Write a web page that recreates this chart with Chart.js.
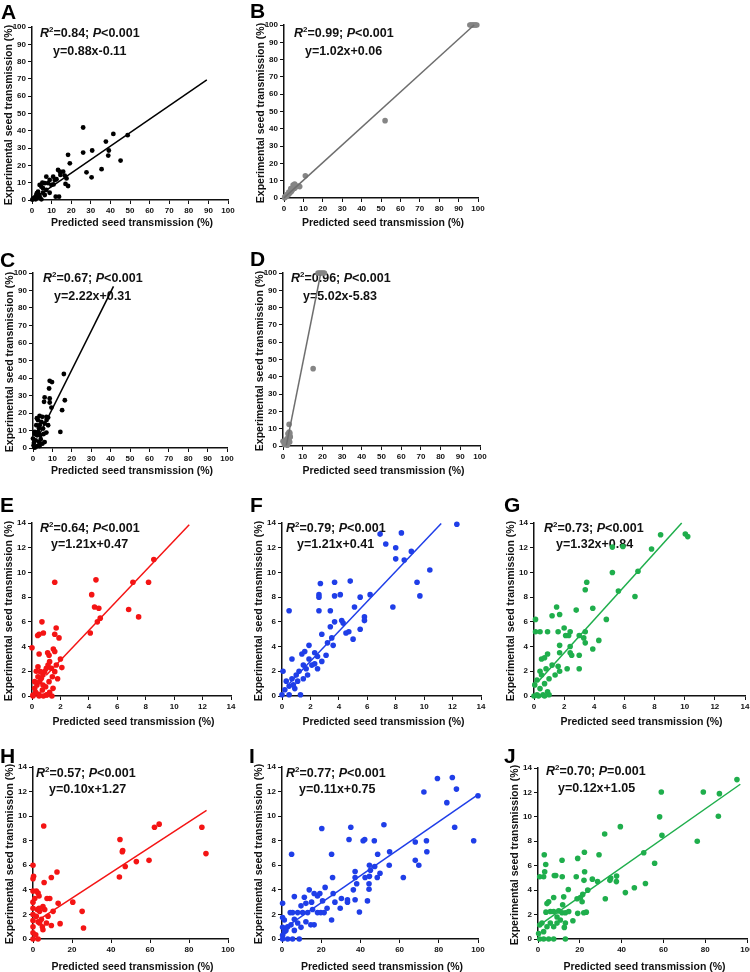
<!DOCTYPE html>
<html>
<head>
<meta charset="UTF-8">
<title>Seed transmission</title>
<script src="https://cdn.jsdelivr.net/npm/chart.js@4.4.0/dist/chart.umd.min.js"></script>
<style>
  body { margin:0; width:750px; height:972px; position:relative; overflow:hidden; background:#fff;
         font-family:"Liberation Sans", Arial, sans-serif; }
  canvas { position:absolute; }
  .lab { position:absolute; font-weight:bold; font-size:21px; line-height:1; color:#000; }
  .xt, .yt { position:absolute; font-weight:bold; font-size:10.5px; line-height:1; white-space:nowrap; color:#111; }
  .xt { transform:translate(-50%,-50%); }
  .yt { transform:translate(-50%,-50%) rotate(-90deg); }
</style>
</head>
<body>
<script>
// ---- data: [predicted, experimental] ----
const ptsA = [[26.1,41.9],[26.1,27.4],[18.4,26.1],[19.3,21.2],[27.8,16.0],[30.7,28.6],[30.4,13.1],[35.5,17.8],
  [37.7,33.8],[38.9,25.7],[39.2,28.6],[41.5,38.2],[45.2,22.8],[48.8,37.5],[16.7,14.1],[17.6,12.5],[17.1,9.3],
  [18.4,8.1],[13.3,17.4],[14.2,16.4],[15.9,16.4],[10.8,13.5],[9.0,11.6],[8.2,9.7],[9.9,8.7],[7.3,13.5],[11.6,11.6],
  [9.0,4.2],[12.1,1.9],[13.8,1.9],[3.9,8.7],[4.8,7.7],[5.6,6.8],[3.1,4.8],[2.2,2.9],[1.4,1.5],[0.5,0.6],[3.9,1.9],
  [4.8,0.4],[6.5,2.9],[7.3,5.8],[5.6,4.2],[2.6,1.5],[1.9,0.4],[3.6,2.9],[5.3,10.0],[6.5,9.7],[12.5,12.0],[14.5,14.5],
  [11.0,9.0],[1.0,1.0],[0.2,0.2],[2.5,4.0]];
const fitA = [[0.5,0.4],[89.2,69.5]];

const ptsB = [[95.8,100],[96.4,100],[97,100],[97.6,100],[98.2,100],[98.8,100],[99.4,100],[52.1,44.7],[11.0,12.9],
  [4.7,7.5],[6.4,6.6],[8.1,6.6],[5.5,5.6],[3.8,3.7],[2.9,2.7],[2.1,1.7],[1.2,0.8],[0.3,0.2],[4.3,4.6],[7.2,6.9],
  [5.5,8.1],[3.5,5.5],[2.5,3.5],[1.5,2.0],[0.5,0.8]];
const fitB = [[0,0.06],[98,100]];

const ptsC = [[15.9,42.3],[8.6,38.4],[9.8,37.7],[8.3,34.0],[6.0,28.9],[5.7,26.4],[8.6,28.3],[8.6,26.0],[9.5,23.1],
  [15.0,21.6],[16.4,27.3],[14.1,9.2],[7.8,17.4],[3.4,18.4],[4.8,17.8],[6.9,17.8],[2.6,15.9],[4.3,14.9],[6.0,14.0],
  [7.8,13.0],[1.7,13.0],[3.1,11.1],[5.2,11.1],[6.9,8.8],[0.9,9.2],[2.1,7.3],[3.8,7.3],[0,5.4],[1.4,4.4],[3.1,3.4],
  [4.8,2.5],[0.3,1.5],[2.1,1.0],[0.9,0.2],[3.4,1.1],[6.0,3.4],[2.6,9.2],[0.5,3.0],[1.0,8.0],[4.0,5.0],[5.5,8.0],
  [2.0,17.0],[7.0,16.0],[3.5,13.0]];
const fitC = [[3.5,8.1],[41.5,92.4]];

const ptsD = [[17.8,100],[18.6,100],[19.4,100],[20.2,100],[21.0,100],[15.3,44.7],[3.1,12.5],[2.5,7.1],[3.4,6.2],
  [3.1,4.2],[1.7,3.3],[0,2.7],[1.4,1.3],[2.2,0.4],[3.4,2.3],[3.7,5.2],[3.1,8.1],[0.7,0.8],[2.0,4.2],[2.8,5.5],
  [3.5,7.5],[1.0,2.0]];
const fitD = [[1.7,0.4],[19,99]];

const ptsE = [[8.57,11.05],[7.1,9.2],[8.2,9.2],[6.8,7.0],[7.5,6.4],[1.6,9.2],[4.5,9.4],[4.2,8.2],[4.4,7.2],[4.7,7.1],
  [4.8,6.3],[4.6,6.0],[4.1,5.1],[0.7,6.0],[0.8,5.1],[0.4,4.9],[0.5,5.0],[1.7,5.5],[1.6,5.0],[1.9,4.7],[0,3.9],
  [0.5,3.4],[1.1,3.5],[1.2,3.3],[1.5,3.8],[1.6,3.6],[2.0,3.0],[2.1,2.3],[1.8,1.4],[0.3,2.0],[0.19,0.62],[0.35,0.89],
  [0.54,1.16],[0.66,1.43],[0.77,1.7],[0.89,1.97],[1.01,2.24],[1.13,2.51],[1.24,2.78],[1.36,2.24],[0.42,1.56],
  [0.26,0.3],[0.49,0.13],[0.73,0.49],[0.96,0.75],[1.2,1.16],[1.43,1.56],[1.6,1.97],[1.71,2.51],[0.07,0.08],
  [1.24,0.3],[1.01,0.08],[0.77,0.89],[0.59,1.97],[0.42,2.37],[1.48,0.62],[0.19,1.16],[0.07,0],[0.5,0],[0.8,0],
  [1.05,0.1],[1.4,0]];
const fitE = [[1.0,1.68],[11.06,13.85]];

const ptsF = [[12.3,13.9],[6.9,13.1],[8.4,13.2],[7.3,12.3],[8.0,12.0],[8.0,11.1],[9.1,11.7],[8.6,11.0],[10.4,10.2],
  [9.5,9.2],[9.7,8.1],[7.8,7.2],[0.5,6.9],[2.7,9.1],[3.7,9.2],[4.8,9.3],[2.6,8.2],[2.6,8.0],[3.7,8.1],[4.1,8.2],
  [5.5,8.0],[6.2,8.2],[2.6,6.9],[3.4,6.9],[5.1,7.2],[3.7,6.0],[4.2,6.1],[4.3,5.9],[5.8,6.4],[5.8,6.1],[5.5,5.4],
  [5.0,4.6],[4.7,5.2],[4.5,5.1],[3.4,5.6],[2.8,5.0],[3.5,4.7],[3.6,4.1],[3.2,4.3],[1.9,4.1],[0.7,3.0],[0.07,2.0],
  [1.4,3.4],[1.6,3.6],[2.3,3.5],[2.5,3.2],[3.1,3.3],[2.8,2.8],[2.1,2.5],[1.7,2.2],[1.2,2.0],[1.0,1.7],[0.7,1.4],
  [0.3,1.2],[0.5,0.8],[0.2,0.5],[0.9,0.6],[1.3,0.1],[1.5,2.5],[1.9,3.0],[2.3,2.6],[2.5,2.2],[1.8,1.7],[1.5,1.4],
  [1.1,1.2],[0.8,0.9],[0,0.1],[0.5,0.1]];
const fitF = [[0.5,1.0],[11.2,13.96]];

const ptsG = [[10.04,13.1],[10.2,12.9],[8.4,13.05],[7.8,11.9],[5.2,12.05],[5.9,12.1],[5.2,10.0],[6.9,10.1],[5.6,8.5],
  [6.7,8.05],[4.8,6.2],[3.5,9.2],[3.4,8.6],[3.9,7.1],[2.8,6.95],[1.5,7.2],[1.7,6.6],[1.2,6.5],[0.1,6.2],[0.1,5.2],
  [0.4,5.2],[0.9,5.2],[1.6,5.2],[2.0,5.5],[2.3,4.9],[2.4,5.2],[2.1,4.9],[3.0,4.9],[3.4,5.2],[3.3,4.7],[3.4,4.3],
  [3.9,3.8],[4.3,4.5],[1.7,4.1],[2.4,4.0],[1.7,3.5],[2.4,3.5],[2.5,3.3],[3.0,3.3],[0.9,3.4],[0.5,3.0],[0.7,3.1],
  [2.2,2.2],[3.0,2.2],[1.6,2.4],[1.2,2.5],[0.8,2.2],[0.4,2.0],[0.5,1.7],[0.2,1.3],[0.05,0.9],[0.4,0.6],[0.7,1.0],
  [1.0,1.4],[1.4,1.7],[1.7,2.0],[0.9,0.35],[0.2,0.1],[1.0,0.1],[0.6,0.1],[0,0],[0.3,0],[0.7,0]];
const fitG = [[0.3,1.2],[9.8,14.0]];

const ptsH = [[86.6,9.1],[88.7,6.95],[62.3,9.1],[64.7,9.35],[44.6,8.1],[45.8,7.1],[46.0,7.2],[59.5,6.4],[53.0,6.3],
  [47.3,5.9],[44.3,5.05],[25.2,2.25],[25.9,0.9],[20.4,3.0],[13.9,1.25],[12.9,2.9],[12.3,5.45],[9.4,5.0],[5.5,9.2],
  [5.7,4.6],[8.6,3.3],[7.2,3.3],[9.4,1.1],[10.3,2.25],[7.7,1.85],[6.9,1.3],[6.0,2.4],[5.1,2.65],[4.8,1.0],[3.4,2.25],
  [2.6,3.75],[1.7,3.9],[3.1,3.5],[0.9,3.3],[0,6.0],[0,4.9],[0.3,5.1],[0,3.9],[0,0],[0,0.5],[0,1.0],[0,1.5],[0,2.0],
  [0,2.5],[0,3.0],[1.7,1.85],[2.6,1.4],[1.4,0.35],[2.6,0],[3.4,1.3],[4.3,1.6],[5.1,0.75],[2.2,2.4],[3.1,2.5]];
const fitH = [[1.7,1.44],[89,10.47]];

const ptsI = [[79.3,13.07],[86.9,13.15],[84.1,11.1],[89.0,12.2],[72.4,11.96],[100,11.66],[88.1,9.1],[97.8,8.0],
  [73.7,8.0],[73.9,7.1],[68.0,7.9],[68.0,6.4],[69.8,6.0],[61.9,5.0],[54.9,7.1],[54.7,6.0],[52.0,9.3],[35.1,9.1],
  [20.3,9.0],[4.9,6.9],[25.3,6.9],[25.8,5.0],[34.2,8.1],[41.4,8.0],[42.2,8.1],[47.1,8.0],[48.8,6.9],[44.6,6.0],
  [45.1,5.6],[47.3,5.9],[50.0,5.35],[48.6,5.0],[44.6,5.1],[42.4,5.0],[44.4,4.5],[44.4,4.05],[43.6,3.1],[37.3,5.5],
  [37.3,5.0],[38.1,4.5],[36.4,4.0],[37.3,3.2],[39.5,2.2],[33.4,3.2],[33.4,3.0],[29.7,2.5],[30.3,3.3],[27.0,3.0],
  [26.1,3.7],[25.3,1.55],[23.0,2.5],[22.0,4.2],[20.7,3.1],[18.1,3.5],[16.4,3.7],[19.3,3.7],[15.1,3.0],[13.9,4.0],
  [11.4,3.4],[12.2,2.9],[6.3,3.45],[9.7,2.7],[10.5,2.15],[13.1,2.15],[15.6,2.4],[18.1,2.15],[19.8,2.15],[21.5,2.15],
  [16.4,1.15],[14.7,1.15],[12.2,1.4],[8.0,2.15],[5.4,2.15],[4.2,2.15],[6.3,1.6],[8.0,1.3],[4.6,1.15],[2.9,1.0],
  [0.3,2.9],[0.3,1.75],[1.2,1.55],[0.3,0.95],[2.0,0.7],[0.3,0.3],[0.3,0],[2.9,0],[5.4,0],[8.8,0],[1.2,0.6],
  [6.3,0.7],[9.7,0.95]];
const fitI = [[4.6,1.26],[100,11.75]];

const ptsJ = [[95.2,13.05],[79.1,12.04],[59.0,12.04],[86.8,11.9],[58.2,10.0],[86.3,10.05],[59.3,8.5],[76.2,8.0],
  [50.6,7.06],[55.8,6.2],[51.4,4.55],[46.1,4.2],[41.8,3.8],[39.4,9.2],[31.9,8.6],[29.2,6.9],[37.6,5.15],[37.5,4.7],
  [34.8,5.0],[34.4,4.8],[28.5,4.7],[26.0,4.9],[32.2,3.3],[22.2,7.1],[19.0,6.6],[22.3,5.5],[18.3,5.1],[22.0,4.8],
  [23.8,4.0],[21.4,3.65],[21.1,3.05],[18.7,3.3],[20.3,3.4],[23.1,2.2],[21.9,2.15],[19.0,2.1],[16.7,1.5],[14.5,4.05],
  [11.5,6.45],[11.6,5.1],[12.3,3.45],[11.8,2.8],[8.5,5.2],[7.8,5.2],[7.5,3.4],[3.0,6.9],[3.7,6.1],[3.2,5.5],
  [2.7,5.1],[0.8,5.1],[4.3,2.9],[5.1,3.05],[3.8,2.2],[5.9,2.25],[7.5,2.25],[9.9,2.3],[11.5,2.15],[13.1,2.15],
  [14.7,2.25],[9.1,1.8],[10.7,1.55],[13.1,1.3],[12.6,0.95],[13.1,0],[5.9,1.3],[4.3,1.0],[1.9,1.3],[0.8,1.15],
  [2.7,0.6],[0.3,0.45],[0.8,0],[2.7,0],[5.1,0],[7.5,0],[7.5,1.0],[9.1,1.3]];
const fitJ = [[1.9,1.28],[96.8,12.67]];

const r2Text = ['0.84','0.99','0.67','0.96','0.64','0.79','0.73','0.57','0.77','0.70'];
const pText  = ['<0.001','<0.001','<0.001','<0.001','<0.001','<0.001','<0.001','<0.001','<0.001','=0.001'];
const eqText = ['y=0.88x-0.11','y=1.02x+0.06','y=2.22x+0.31','y=5.02x-5.83','y=1.21x+0.47',
                'y=1.21x+0.41','y=1.32x+0.84','y=0.10x+1.27','y=0.11x+0.75','y=0.12x+1.05'];
const xTitle = 'Predicted seed transmission (%)';
const yTitle = 'Experimental seed transmission (%)';

const FONT = '"Liberation Sans", Arial, sans-serif';
const RED = '#f41414', BLUE = '#1f3ee8', GREEN = '#1fae4c', GREY = '#858585';

// box = [left, right, top, bottom] of plot area on the page
const panels = [
  {id:'A', pts:ptsA, fit:fitA, col:'#000', lc:'#000', r:2.4, box:[32,228,27,200], xmax:100, xs:10, ymax:100, ys:10, txt:[8,7,21,25], xo:22, lab:[1,1]},
  {id:'B', pts:ptsB, fit:fitB, col:GREY, lc:'#6e6e6e', r:2.8, box:[284,478,25,198], xmax:100, xs:10, ymax:100, ys:10, txt:[10,9,21,27], xo:24, lab:[250,0]},
  {id:'C', pts:ptsC, fit:fitC, col:'#000', lc:'#000', r:2.4, box:[33,227,273,448], xmax:100, xs:10, ymax:100, ys:10, txt:[10,6,21,24], xo:22, lab:[0,249]},
  {id:'D', pts:ptsD, fit:fitD, col:GREY, lc:'#6e6e6e', r:2.8, box:[283,480,273,446], xmax:100, xs:10, ymax:100, ys:10, txt:[8,6,20,24], xo:24, lab:[250,248]},
  {id:'E', pts:ptsE, fit:fitE, col:RED, lc:RED, r:2.8, box:[32,231,523,696], xmax:14, xs:2, ymax:14, ys:2, txt:[8,6,19,22], xo:25, lab:[0,494]},
  {id:'F', pts:ptsF, fit:fitF, col:BLUE, lc:BLUE, r:2.8, box:[282,481,523,696], xmax:14, xs:2, ymax:14, ys:2, txt:[4,6,15,22], xo:25, lab:[250,494]},
  {id:'G', pts:ptsG, fit:fitG, col:GREEN, lc:GREEN, r:2.8, box:[534,745,523,696], xmax:14, xs:2, ymax:14, ys:2, txt:[10,6,22,22], xo:25, lab:[504,494]},
  {id:'H', pts:ptsH, fit:fitH, col:RED, lc:RED, r:2.8, box:[33,228,767,939], xmax:100, xs:20, ymax:14, ys:2, txt:[3,7,16,23], xo:27, lab:[0,745]},
  {id:'I', pts:ptsI, fit:fitI, col:BLUE, lc:BLUE, r:2.8, box:[282,478,767,939], xmax:100, xs:20, ymax:14, ys:2, txt:[4,7,17,23], xo:27, lab:[249,745]},
  {id:'J', pts:ptsJ, fit:fitJ, col:GREEN, lc:GREEN, r:2.8, box:[538,747,768,939], xmax:100, xs:20, ymax:14, ys:2, txt:[8,4,20,21], xo:27, lab:[504,745]}
];

// R²/P text and equation, drawn under the data so the fit line crosses it
const statPlugin = {
  id: 'stat',
  beforeDatasetsDraw(chart, args, o) {
    const ctx = chart.ctx, a = chart.chartArea;
    ctx.save();
    ctx.fillStyle = '#111';
    ctx.textBaseline = 'middle';
    let x = a.left + o.pos[0];
    const y = a.top + o.pos[1];
    const seg = (s, f, dy) => { ctx.font = f; ctx.fillText(s, x, y + dy); x += ctx.measureText(s).width; };
    seg('R', 'italic bold 12.5px ' + FONT, 0);
    seg('2', 'bold 8px ' + FONT, -4);
    seg('=' + o.r2 + '; ', 'bold 12.5px ' + FONT, 0);
    seg('P', 'italic bold 12.5px ' + FONT, 0);
    seg(o.p, 'bold 12.5px ' + FONT, 0);
    ctx.font = 'bold 12.5px ' + FONT;
    ctx.fillText(o.eq, a.left + o.pos[2], a.top + o.pos[3]);
    ctx.restore();
  }
};

function addText(cls, txt, x, y) {
  const d = document.createElement('div');
  d.className = cls; d.textContent = txt;
  d.style.left = x + 'px'; d.style.top = y + 'px';
  document.body.appendChild(d);
}

const PL = 32, PT = 10, PR = 14, PB = 22;
const tickFont = {family: FONT, size: 8, weight: 'bold'};

panels.forEach(function(p, i) {
  const [L, R, T, B] = p.box;
  const cv = document.createElement('canvas');
  cv.width = R - L + PL + PR;
  cv.height = B - T + PT + PB;
  cv.style.left = (L - PL) + 'px';
  cv.style.top = (T - PT) + 'px';
  document.body.appendChild(cv);

  const axis = (max, step, fitFn) => ({
    type: 'linear', min: 0, max: max,
    ticks: {stepSize: step, font: tickFont, color: '#111', padding: 2, maxRotation: 0, autoSkip: false},
    grid: {drawOnChartArea: false, drawTicks: true, tickLength: 4, color: '#111', lineWidth: 1},
    border: {display: true, color: '#111', width: 1.5},
    afterFit: fitFn
  });

  new Chart(cv, {
    type: 'scatter',
    data: {
      datasets: [
        { data: p.fit.map(v => ({x: v[0], y: v[1]})), showLine: true, borderColor: p.lc,
          borderWidth: 1.5, pointRadius: 0, clip: false },
        { data: p.pts.map(v => ({x: v[0], y: v[1]})), backgroundColor: p.col, borderWidth: 0,
          pointRadius: p.r, clip: false }
      ]
    },
    options: {
      responsive: false, animation: false, events: [],
      layout: {padding: {left: 0, top: PT, right: PR, bottom: 0}},
      plugins: {
        legend: {display: false}, tooltip: {enabled: false},
        stat: {pos: p.txt, r2: r2Text[i], p: pText[i], eq: eqText[i]}
      },
      scales: {
        x: axis(p.xmax, p.xs, s => { s.height = PB; }),
        y: axis(p.ymax, p.ys, s => { s.width = PL; })
      }
    },
    plugins: [statPlugin]
  });

  addText('lab', p.id, p.lab[0], p.lab[1]);
  addText('xt', xTitle, (L + R) / 2 + 2, B + p.xo);
  addText('yt', yTitle, L - 24, (T + B) / 2 + 1);
});
</script>
</body>
</html>
